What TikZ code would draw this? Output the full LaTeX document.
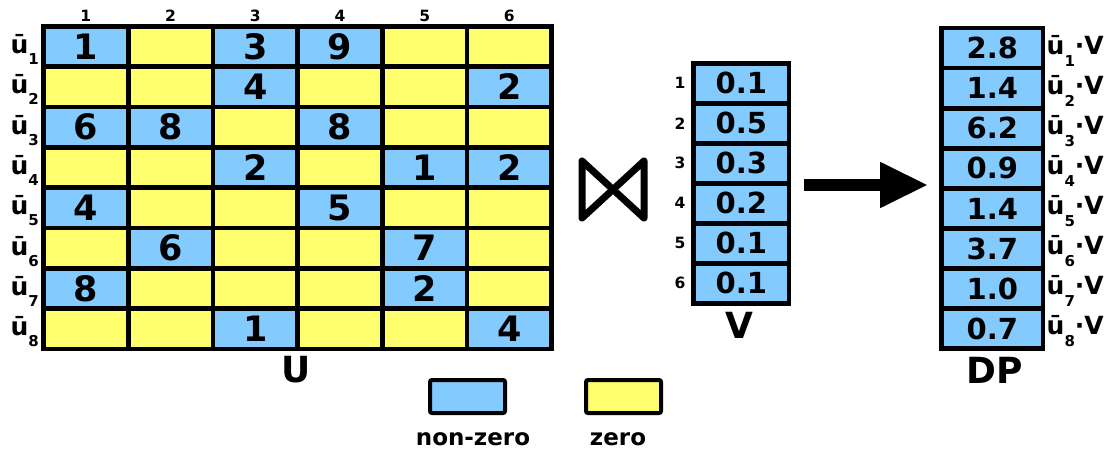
\documentclass[tikz,border=0pt]{standalone}
\usepackage{fontspec}
\setmainfont{DejaVu Sans}
\usetikzlibrary{arrows.meta}
\definecolor{nzblue}{HTML}{83CAFF}
\definecolor{zyellow}{HTML}{FFFF6D}
\newcommand{\fsz}[1]{\fontsize{#1}{#1}\selectfont\bfseries}
\begin{document}
\begin{tikzpicture}[x=1pt,y=-1pt,
  cellbase/.style={draw=black, line width=4.8pt, inner sep=0pt, outer sep=0pt},
  ucell/.style={cellbase, minimum width=84.7pt, minimum height=40.3pt, font=\fsz{35}},
  nz/.style={ucell, fill=nzblue},
  zc/.style={ucell, fill=zyellow},
  vcell/.style={cellbase, fill=nzblue, minimum width=95.5pt, minimum height=40pt, font=\fsz{29}},
  dpcell/.style={cellbase, fill=nzblue, minimum width=101.5pt, minimum height=40.1pt, font=\fsz{29}},
  idx/.style={font=\fsz{15.5}, inner sep=0pt},
  rlab/.style={font=\fsz{25}, inner sep=0pt, anchor=base west},
  title/.style={font=\fsz{36}, inner sep=0pt},
  legbox/.style={draw=black, line width=4pt, rounded corners=2pt, minimum width=75pt, minimum height=33pt, inner sep=0pt},
  legtext/.style={font=\fsz{23}, inner sep=0pt}
]
\useasboundingbox (0,0) rectangle (1107,449);
% U matrix
\foreach \row [count=\r] in {
  {nz/1,zc/{},nz/3,nz/9,zc/{},zc/{}},
  {zc/{},zc/{},nz/4,zc/{},zc/{},nz/2},
  {nz/6,nz/8,zc/{},nz/8,zc/{},zc/{}},
  {zc/{},zc/{},nz/2,zc/{},nz/1,nz/2},
  {nz/4,zc/{},zc/{},nz/5,zc/{},zc/{}},
  {zc/{},nz/6,zc/{},zc/{},nz/7,zc/{}},
  {nz/8,zc/{},zc/{},zc/{},nz/2,zc/{}},
  {zc/{},zc/{},nz/1,zc/{},zc/{},nz/4}} {
  \foreach \t/\v [count=\c] in \row {
    \node[\t] (u-\r-\c) at ({43.5+84.7*(\c-0.5)}, {26.5+40.3*(\r-0.5)}) {\v};
  }
  \node[rlab] (rl-\r) at (10.5, {26.5+40.3*(\r-0.5)+7}) {ū\raisebox{-11pt}{\fsz{15}\r}};
}
\foreach \c in {1,...,6}
  \node[idx] (cl-\c) at ({43.5+84.7*(\c-0.5)}, 16) {\c};
\node[title] (ulab) at (296,370) {U};
% bowtie
\draw[line width=7pt, line join=round] (582,161) -- (644,218) -- (644,161) -- (582,218) -- cycle;
% V vector
\foreach \v [count=\i] in {0.1,0.5,0.3,0.2,0.1,0.1} {
  \node[vcell] (v-\i) at (741.25, {63.3+40*(\i-0.5)}) {\v};
  \node[idx] (vl-\i) at (680, {63.3+40*(\i-0.5)}) {\i};
}
\node[title] (vlab) at (739,325) {V};
% arrow
\coordinate (astart) at (804,185);
\coordinate (aend) at (928,185);
\draw[line width=11pt, -{Triangle[length=48pt,width=43pt]}] (astart) -- (aend);
% DP vector
\foreach \v [count=\i] in {2.8,1.4,6.2,0.9,1.4,3.7,1.0,0.7} {
  \node[dpcell] (dp-\i) at (992.25, {28+40.1*(\i-0.5)}) {\v};
  \node[rlab] (dl-\i) at (1046.5, {28+40.1*(\i-0.5)+6}) {ū\raisebox{-12pt}{\fsz{15}\i}·V};
}
\node[title] (dplab) at (995,370) {DP};
% legend
\node[legbox, fill=nzblue] (legnz) at (467.5,396.5) {};
\node[legbox, fill=zyellow] (legz) at (623.5,396.5) {};
\node[legtext] (legnzt) at (473,439) {non-zero};
\node[legtext] (legzt) at (618,439) {zero};
\end{tikzpicture}
\end{document}
